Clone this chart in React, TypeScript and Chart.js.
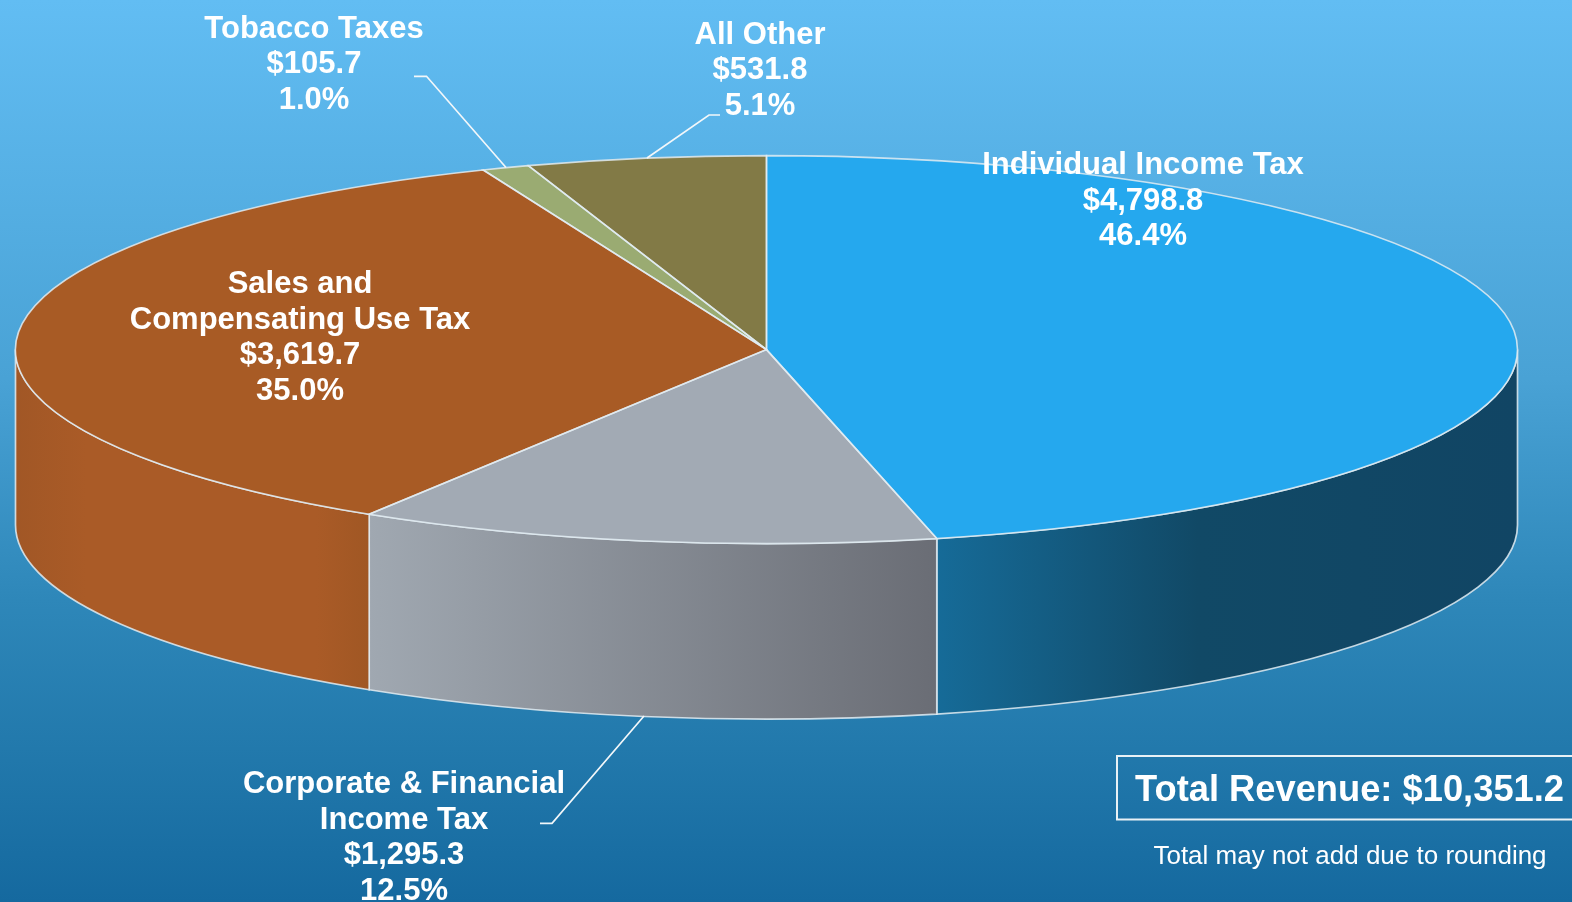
import React, { useEffect, useRef } from "react";
import { Chart, registerables } from "chart.js";

Chart.register(...registerables);

const categories = [
  ["Individual Income Tax"],
  ["Corporate & Financial", "Income Tax"],
  ["Sales and", "Compensating Use Tax"],
  ["Tobacco Taxes"],
  ["All Other"],
];
const revenue = [4798.8, 1295.3, 3619.7, 105.7, 531.8];
const shareLabels = ["46.4%", "12.5%", "35.0%", "1.0%", "5.1%"];
const totalLabel = "Total Revenue: $10,351.2";
const noteLabel = "Total may not add due to rounding";

const topColors = ["#25a8ee", "#a2aab4", "#a85b25", "#9aab72", "#827a46"];
const wallStops: [number, string][][] = [
  [[0, "#166b98"], [0.45, "#114966"], [1, "#114564"]],
  [[0, "#a0a8b1"], [1, "#6a6d75"]],
  [[0, "#a15726"], [0.2, "#aa5b27"], [0.85, "#aa5b27"], [1, "#a05724"]],
  [[0, "#9aab72"], [1, "#9aab72"]],
  [[0, "#827a46"], [1, "#827a46"]],
];

const W = 1572, H = 902;
const CX = 766.5, CY = 349.6, RX = 751, RY = 194, DEPTH = 175.5;
const LINE = "rgba(226,236,242,0.85)";

const labelPlacement = [
  { x: 1143, y: 165.5, gap: 35.6 },
  { x: 404, y: 784.5, gap: 35.6 },
  { x: 300, y: 284.5, gap: 35.6 },
  { x: 314, y: 29, gap: 35.6 },
  { x: 760, y: 35.2, gap: 35.6 },
];
const leaders: [number, number][][] = [
  [[414, 76.3], [426.5, 76.3], [506, 167.5]],
  [[720, 115], [709, 115], [647, 158]],
  [[644, 716], [552, 823.3], [540, 823.3]],
];

const pie3d = {
  id: "pie3d",
  beforeDraw(chart: any) {
    const { ctx } = chart;
    const g = ctx.createLinearGradient(0, 0, 0, H);
    g.addColorStop(0, "#62bdf3");
    g.addColorStop(0.42, "#49a2d5");
    g.addColorStop(0.665, "#2e87b9");
    g.addColorStop(0.83, "#2279ac");
    g.addColorStop(1, "#15699f");
    ctx.save();
    ctx.fillStyle = g;
    ctx.fillRect(0, 0, W, H);
    ctx.restore();
  },
  beforeDatasetsDraw(chart: any) {
    const { ctx } = chart;
    const arcs = chart.getDatasetMeta(0).data;
    ctx.save();
    arcs.forEach((arc: any, i: number) => {
      const a0 = Math.max(arc.startAngle, 0);
      const a1 = Math.min(arc.endAngle, Math.PI);
      if (a1 <= a0) return;
      const x0 = CX + RX * Math.cos(a1);
      const x1 = CX + RX * Math.cos(a0);
      const g = ctx.createLinearGradient(x0, 0, x1, 0);
      wallStops[i].forEach(([s, c]) => g.addColorStop(s, c));
      ctx.beginPath();
      ctx.ellipse(CX, CY, RX, RY, 0, a0, a1);
      ctx.ellipse(CX, CY + DEPTH, RX, RY, 0, a1, a0, true);
      ctx.closePath();
      ctx.fillStyle = g;
      ctx.fill();
      ctx.strokeStyle = LINE;
      ctx.lineWidth = 1.7;
      ctx.stroke();
    });
    ctx.restore();
    const r = arcs[0].outerRadius;
    ctx.save();
    ctx.translate(CX, CY);
    ctx.scale(RX / r, RY / r);
    ctx.translate(-arcs[0].x, -arcs[0].y);
  },
  afterDatasetsDraw(chart: any) {
    const { ctx } = chart;
    ctx.restore();
    const arcs = chart.getDatasetMeta(0).data;
    ctx.save();
    arcs.forEach((arc: any) => {
      ctx.beginPath();
      ctx.moveTo(CX, CY);
      ctx.ellipse(CX, CY, RX, RY, 0, arc.startAngle, arc.endAngle);
      ctx.closePath();
      ctx.strokeStyle = LINE;
      ctx.lineWidth = 1.6;
      ctx.stroke();
    });
    ctx.strokeStyle = "#f2f7fa";
    ctx.lineWidth = 1.7;
    leaders.forEach((pts) => {
      ctx.beginPath();
      pts.forEach(([x, y], k) => (k ? ctx.lineTo(x, y) : ctx.moveTo(x, y)));
      ctx.stroke();
    });
    ctx.fillStyle = "#ffffff";
    ctx.textAlign = "center";
    ctx.textBaseline = "middle";
    ctx.font = 'bold 31px "Liberation Sans"';
    categories.forEach((lines, i) => {
      const p = labelPlacement[i];
      const money = "$" + revenue[i].toLocaleString("en-US", { minimumFractionDigits: 1 });
      [...lines, money, shareLabels[i]].forEach((t, k) => {
        ctx.fillText(t, p.x, p.y + k * p.gap);
      });
    });
    ctx.strokeStyle = "#e8f1f6";
    ctx.lineWidth = 2;
    ctx.strokeRect(1117, 756, 470, 63.5);
    ctx.font = 'bold 36.3px "Liberation Sans"';
    ctx.fillText(totalLabel, 1349.5, 791);
    ctx.font = '26px "Liberation Sans"';
    ctx.fillText(noteLabel, 1350, 856.5);
    ctx.restore();
  },
};

export default function App() {
  const ref = useRef<HTMLCanvasElement>(null);
  useEffect(() => {
    const chart = new Chart(ref.current!, {
      type: "pie",
      data: {
        labels: categories.map((c) => c.join(" ")),
        datasets: [
          {
            data: revenue,
            backgroundColor: topColors,
            borderWidth: 0,
            clip: false,
          } as any,
        ],
      },
      options: {
        animation: false,
        responsive: false,
        events: [],
        layout: { padding: { top: 0, left: 0, right: 0, bottom: 200 } },
        plugins: { legend: { display: false }, tooltip: { enabled: false } },
      },
      plugins: [pie3d],
    });
    return () => chart.destroy();
  }, []);
  return (
    <div style={{ position: "fixed", left: 0, top: 0, width: W, height: H, overflow: "hidden" }}>
      <canvas ref={ref} width={W} height={H} style={{ display: "block" }} />
    </div>
  );
}
